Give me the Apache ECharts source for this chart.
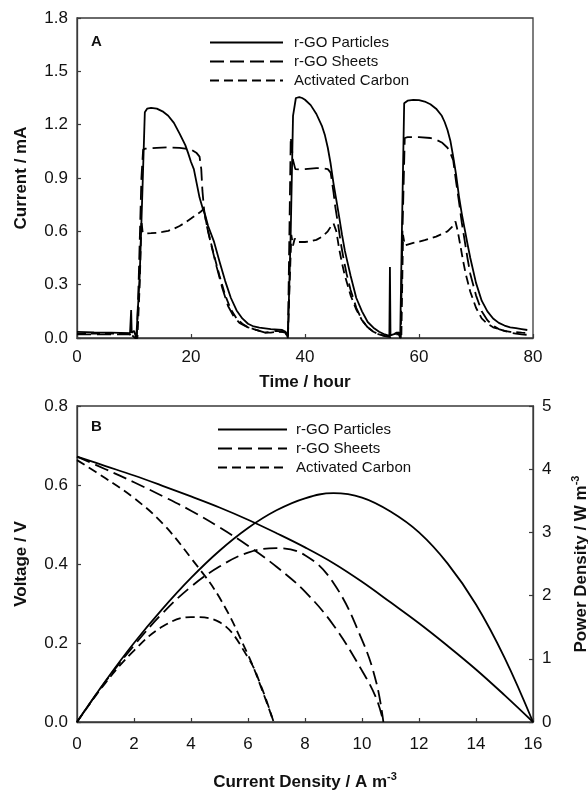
<!DOCTYPE html>
<html>
<head>
<meta charset="utf-8">
<script src="https://cdn.jsdelivr.net/npm/echarts@6/dist/echarts.min.js"></script>
<style>
html,body{margin:0;padding:0;background:#fff;}
#chart{width:588px;height:790px;}
</style>
</head>
<body>
<div id="chart"></div>
<script>
// ---------- Panel A: current vs time ----------
const timeTicks = [0, 20, 40, 60, 80];
const currentTicks = [0, 0.3, 0.6, 0.9, 1.2, 1.5, 1.8];

const particlesT = [0, 3, 6, 9.3, 9.5, 9.6, 10.0, 10.4, 10.6, 11.0, 11.5, 11.9, 12.3, 13, 14, 15, 16, 17, 18, 19, 19.5, 20, 20.5, 21, 21.5, 22, 22.5, 23, 24, 25, 26, 27, 28, 29, 30, 31, 32, 34, 36, 36.6, 37.0, 37.2, 37.5, 37.9, 38.4, 39.0, 39.5, 40, 41, 42, 43, 43.5, 44, 44.5, 45, 45.5, 46, 46.5, 47, 47.5, 48, 49, 50, 51, 52, 53, 54, 54.8, 54.9, 55.0, 55.5, 56, 56.4, 56.7, 57.0, 57.4, 58, 59, 60, 61, 62, 63, 64, 64.5, 65, 65.5, 66, 66.5, 67, 67.5, 68, 68.5, 69, 70, 71, 72, 73, 74, 75, 76, 77, 78, 79];
const particlesI = [0.035, 0.032, 0.030, 0.027, 0.157, 0.030, 0.040, 0.0, 0.0, 0.35, 0.85, 1.27, 1.29, 1.295, 1.29, 1.275, 1.25, 1.21, 1.15, 1.085, 1.04, 0.99, 0.95, 0.87, 0.79, 0.735, 0.69, 0.63, 0.545, 0.43, 0.32, 0.225, 0.155, 0.11, 0.08, 0.065, 0.058, 0.05, 0.045, 0.035, 0.0, 0.0, 0.6, 1.25, 1.35, 1.355, 1.35, 1.34, 1.31, 1.26, 1.19, 1.14, 1.07, 0.98, 0.87, 0.775, 0.68, 0.58, 0.49, 0.42, 0.35, 0.225, 0.15, 0.09, 0.058, 0.035, 0.02, 0.012, 0.40, 0.015, 0.02, 0.025, 0.03, 0.0, 0.6, 1.32, 1.335, 1.34, 1.338, 1.33, 1.315, 1.29, 1.25, 1.215, 1.17, 1.11, 1.02, 0.92, 0.80, 0.70, 0.615, 0.53, 0.45, 0.31, 0.21, 0.15, 0.11, 0.085, 0.07, 0.06, 0.055, 0.05, 0.045];

const sheetsT = [0, 5, 9.3, 9.7, 10.5, 10.8, 11.3, 11.6, 12, 14, 16, 18, 19, 20, 20.5, 21, 21.5, 21.8, 22.0, 22.3, 22.7, 23.5, 24.5, 25.5, 26.5, 27.5, 28.5, 30, 31, 32, 33, 34, 35, 36, 36.6, 37.0, 37.2, 37.5, 37.9, 38.3, 39, 40, 41, 42, 43, 44, 44.5, 45, 45.3, 45.8, 46.3, 46.8, 47.3, 48, 49, 50, 51, 52, 53, 54, 55, 55.5, 56, 56.5, 56.8, 57.1, 57.5, 58, 60, 62, 63, 64, 65, 65.5, 66, 66.5, 67, 67.5, 68, 68.5, 69, 70, 71, 72, 73, 74, 75, 76, 77, 78, 79];
const sheetsI = [0.02, 0.02, 0.02, 0.0, 0.0, 0.3, 0.9, 1.06, 1.065, 1.07, 1.072, 1.07, 1.065, 1.06, 1.05, 1.04, 1.02, 0.95, 0.83, 0.72, 0.64, 0.53, 0.40, 0.28, 0.18, 0.12, 0.085, 0.06, 0.05, 0.04, 0.03, 0.035, 0.04, 0.035, 0.03, 0.0, 0.0, 1.13, 1.0, 0.95, 0.948, 0.95, 0.953, 0.955, 0.955, 0.95, 0.93, 0.82, 0.74, 0.64, 0.53, 0.44, 0.36, 0.27, 0.17, 0.10, 0.06, 0.035, 0.02, 0.01, 0.005, 0.01, 0.02, 0.02, 0.0, 0.6, 1.125, 1.13, 1.13, 1.125, 1.115, 1.10, 1.07, 1.04, 1.0, 0.88, 0.77, 0.65, 0.55, 0.45, 0.36, 0.24, 0.15, 0.10, 0.07, 0.05, 0.04, 0.03, 0.025, 0.02, 0.018];

const carbonT = [0, 5, 9.3, 9.6, 10.2, 10.6, 11.0, 11.3, 11.5, 11.8, 13, 14, 15, 16, 17, 18, 19, 20, 21, 21.7, 22.2, 22.5, 23, 24, 25, 26, 27, 28, 29, 30, 31, 32, 33, 34, 35, 36, 36.6, 37.0, 37.3, 37.6, 37.9, 38.2, 38.6, 40, 41, 42, 43, 44, 44.6, 45, 45.2, 45.5, 46, 46.5, 47, 48, 49, 50, 51, 52, 53, 54, 55, 55.5, 56, 56.5, 56.9, 57.2, 57.5, 58, 59, 60, 61, 62, 63, 64, 65, 65.8, 66.4, 66.8, 67.2, 67.7, 68.2, 69, 70, 71, 72, 73, 74, 75, 76, 77, 78, 79];
const carbonI = [0.025, 0.025, 0.025, 0.03, 0.0, 0.0, 0.3, 0.66, 0.6, 0.588, 0.59, 0.592, 0.597, 0.603, 0.615, 0.63, 0.65, 0.672, 0.695, 0.71, 0.725, 0.68, 0.60, 0.47, 0.35, 0.24, 0.16, 0.11, 0.08, 0.06, 0.05, 0.04, 0.03, 0.03, 0.035, 0.035, 0.03, 0.0, 0.3, 0.58, 0.52, 0.56, 0.54, 0.54, 0.545, 0.552, 0.57, 0.60, 0.63, 0.645, 0.64, 0.60, 0.50, 0.42, 0.35, 0.24, 0.16, 0.10, 0.06, 0.035, 0.02, 0.012, 0.01, 0.02, 0.03, 0.03, 0.0, 0.58, 0.52, 0.525, 0.535, 0.542, 0.55, 0.56, 0.57, 0.585, 0.60, 0.625, 0.655, 0.60, 0.53, 0.44, 0.36, 0.26, 0.17, 0.11, 0.08, 0.06, 0.05, 0.04, 0.035, 0.033, 0.03, 0.028];

// ---------- Panel B: polarization and power curves ----------
const densityTicks = [0, 2, 4, 6, 8, 10, 12, 14, 16];
const voltageTicks = [0, 0.2, 0.4, 0.6, 0.8];
const powerTicks = [0, 1, 2, 3, 4, 5];

const particlesJ = [0, 1, 2, 3, 4, 5, 6, 7, 8, 9, 10, 11, 12, 13, 14, 15, 16];
const particlesV = [0.672, 0.648, 0.624, 0.598, 0.571, 0.543, 0.512, 0.478, 0.442, 0.402, 0.355, 0.303, 0.250, 0.193, 0.133, 0.068, 0.0];
const particlesP = [0, 0.65, 1.25, 1.79, 2.28, 2.71, 3.07, 3.35, 3.54, 3.62, 3.55, 3.33, 3.0, 2.51, 1.86, 1.02, 0];

const sheetsJ = [0, 1, 2, 3, 4, 5, 6, 7, 8, 9, 10, 10.5, 10.75];
const sheetsV = [0.672, 0.640, 0.607, 0.572, 0.535, 0.493, 0.446, 0.393, 0.330, 0.245, 0.130, 0.060, 0.0];
const sheetsP = [0, 0.64, 1.21, 1.72, 2.14, 2.46, 2.68, 2.75, 2.64, 2.20, 1.30, 0.63, 0];

const carbonJ = [0, 1, 2, 3, 4, 5, 6, 6.5, 6.9];
const carbonV = [0.663, 0.617, 0.567, 0.503, 0.415, 0.315, 0.170, 0.080, 0.0];
const carbonP = [0, 0.62, 1.13, 1.51, 1.66, 1.58, 1.02, 0.52, 0];

const names = ['r-GO Particles', 'r-GO Sheets', 'Activated Carbon'];

// ---------- styles ----------
const FONT = "'Liberation Sans', Arial, Helvetica, sans-serif";
const AXIS_COLOR = '#3a3a3a';
const dashSheets = [14, 6];
const dashCarbon = [9, 5];
const lineStyles = [
  { color: '#000', width: 1.8, type: 'solid' },
  { color: '#000', width: 1.8, type: dashSheets },
  { color: '#000', width: 1.8, type: dashCarbon }
];

function pairs(xs, ys) { return xs.map((x, i) => [x, ys[i]]); }
function mkSeries(name, idx, xs, ys, xi, yi, smooth) {
  return {
    name: name, type: 'line', xAxisIndex: xi, yAxisIndex: yi,
    data: pairs(xs, ys), symbol: 'none', showSymbol: false,
    smooth: smooth ? 0.4 : false,
    lineStyle: lineStyles[idx], itemStyle: { color: '#000' },
    animation: false, z: 3 - idx
  };
}

function valAxis(opts) {
  return Object.assign({
    type: 'value',
    axisLine: { show: true, onZero: false, lineStyle: { color: AXIS_COLOR, width: 1.3 } },
    axisTick: { show: true, inside: true, length: 4, lineStyle: { color: AXIS_COLOR, width: 1.2 } },
    splitLine: { show: false },
    axisLabel: { color: '#111', fontSize: 17, fontFamily: FONT },
    nameLocation: 'middle',
    nameTextStyle: { color: '#111', fontSize: 17, fontWeight: 'bold', fontFamily: FONT,
      rich: { sup: { fontSize: 11, fontWeight: 'bold', fontFamily: FONT, color: '#111', padding: [0, 0, 11, 0] } } }
  }, opts);
}

const chart = echarts.init(document.getElementById('chart'), null, { renderer: 'canvas' });

const legendCommon = {
  data: names, orient: 'vertical', itemHeight: 14, itemGap: 4, selectedMode: false,
  itemStyle: { opacity: 0 }
};

const option = {
  backgroundColor: '#fff',
  animation: false,
  textStyle: { fontFamily: FONT },
  grid: [
    { left: 77, top: 18, width: 456, height: 320, show: true, borderColor: AXIS_COLOR, borderWidth: 1.3,
      containLabel: false, outerBoundsMode: 'none' },
    { left: 77, top: 406, width: 456, height: 316, show: true, borderColor: AXIS_COLOR, borderWidth: 1.3,
      containLabel: false, outerBoundsMode: 'none' }
  ],
  xAxis: [
    valAxis({ gridIndex: 0, min: timeTicks[0], max: timeTicks[timeTicks.length - 1], interval: 20,
      name: 'Time / hour', nameGap: 36,
      axisLabel: { color: '#111', fontSize: 17, fontFamily: FONT, margin: 11 } }),
    valAxis({ gridIndex: 1, min: densityTicks[0], max: densityTicks[densityTicks.length - 1], interval: 2,
      name: 'Current Density / A m{sup|-3}', nameGap: 49,
      axisLabel: { color: '#111', fontSize: 17, fontFamily: FONT, margin: 14 } })
  ],
  yAxis: [
    valAxis({ gridIndex: 0, min: currentTicks[0], max: currentTicks[currentTicks.length - 1], interval: 0.3,
      name: 'Current / mA', nameGap: 47,
      axisLabel: { color: '#111', fontSize: 17, fontFamily: FONT, margin: 9, formatter: v => v.toFixed(1) } }),
    valAxis({ gridIndex: 1, min: voltageTicks[0], max: voltageTicks[voltageTicks.length - 1], interval: 0.2,
      name: 'Voltage / V', nameGap: 47,
      axisLabel: { color: '#111', fontSize: 17, fontFamily: FONT, margin: 9, formatter: v => v.toFixed(1) } }),
    valAxis({ gridIndex: 1, position: 'right', min: powerTicks[0], max: powerTicks[powerTicks.length - 1], interval: 1,
      name: 'Power Density / W m{sup|-3}', nameGap: 37,
      axisLabel: { color: '#111', fontSize: 17, fontFamily: FONT, margin: 9, formatter: v => String(Math.round(v)) } })
  ],
  legend: [
    Object.assign({}, legendCommon, { left: 204, top: 30, itemWidth: 73,
      textStyle: { fontSize: 15, color: '#111', fontFamily: FONT, padding: [0, 0, 0, 6] } }),
    Object.assign({}, legendCommon, { left: 212, top: 417, itemWidth: 69,
      textStyle: { fontSize: 15, color: '#111', fontFamily: FONT, padding: [0, 0, 0, 4] } })
  ],
  graphic: [
    { type: 'text', left: 91, top: 34, style: { text: 'A', font: 'bold 15px ' + FONT, fill: '#111' } },
    { type: 'text', left: 91, top: 419, style: { text: 'B', font: 'bold 15px ' + FONT, fill: '#111' } }
  ],
  series: [
    mkSeries(names[0], 0, particlesT, particlesI, 0, 0, false),
    mkSeries(names[1], 1, sheetsT, sheetsI, 0, 0, false),
    mkSeries(names[2], 2, carbonT, carbonI, 0, 0, false),
    mkSeries(names[0], 0, particlesJ, particlesV, 1, 1, true),
    mkSeries(names[1], 1, sheetsJ, sheetsV, 1, 1, true),
    mkSeries(names[2], 2, carbonJ, carbonV, 1, 1, true),
    mkSeries(names[0], 0, particlesJ, particlesP, 1, 2, true),
    mkSeries(names[1], 1, sheetsJ, sheetsP, 1, 2, true),
    mkSeries(names[2], 2, carbonJ, carbonP, 1, 2, true)
  ]
};
chart.setOption(option);
</script>
</body>
</html>
